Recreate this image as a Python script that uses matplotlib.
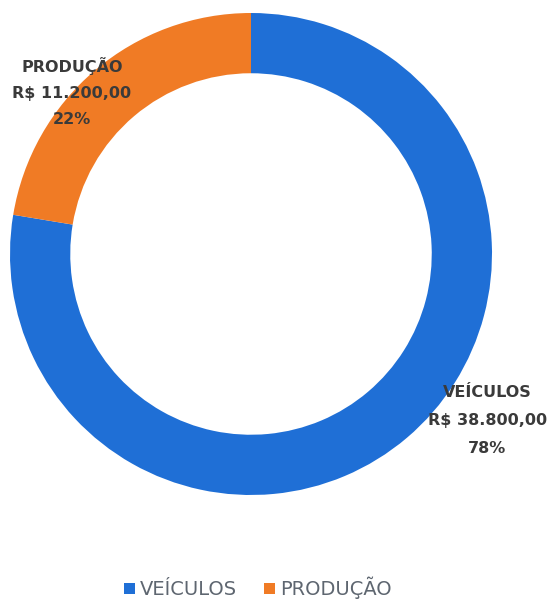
import matplotlib
matplotlib.use("Agg")
import matplotlib.pyplot as plt

# dados do grafico
categorias = ["VEÍCULOS", "PRODUÇÃO"]
valores = [38800, 11200]
cores = ["#1F6FD6", "#F07B25"]


def brl(v):
    # formata em reais no padrao brasileiro
    s = f"{v:,.2f}"
    return "R$ " + s.replace(",", "X").replace(".", ",").replace("X", ".")


total = sum(valores)

fig = plt.figure(figsize=(5.53, 6.02), dpi=100)
ax = fig.add_axes([10 / 553, 107 / 602, 482 / 553, 482 / 602])

wedges, _ = ax.pie(valores, colors=cores, startangle=90, counterclock=False,
                   radius=1, wedgeprops=dict(width=0.25, linewidth=0))
ax.set_xlim(-1, 1)
ax.set_ylim(-1, 1)
ax.axis("off")

# posicao dos rotulos de cada fatia
pos_rotulos = {"VEÍCULOS": (0.98, -0.69), "PRODUÇÃO": (-0.743, 0.672)}
espaco = {"VEÍCULOS": 2.1, "PRODUÇÃO": 1.95}

for nome, v in zip(categorias, valores):
    pct = round(v / total * 100)
    txt = f"{nome}\n{brl(v)}\n{pct}%"
    x, y = pos_rotulos[nome]
    ax.text(x, y, txt, ha="center", va="center", fontsize=11.5,
            fontweight="bold", color="#3a3a3a", linespacing=espaco[nome],
            family="DejaVu Sans", clip_on=False)

leg = fig.legend(wedges, categorias, loc="center", bbox_to_anchor=(258 / 553, 1 - 588 / 602),
                 ncol=2, frameon=False, handlelength=0.55, handleheight=0.55,
                 handletextpad=0.25, columnspacing=1.4, fontsize=14)
for t in leg.get_texts():
    t.set_color("#5e6670")

fig.savefig("out.png", dpi=100)
